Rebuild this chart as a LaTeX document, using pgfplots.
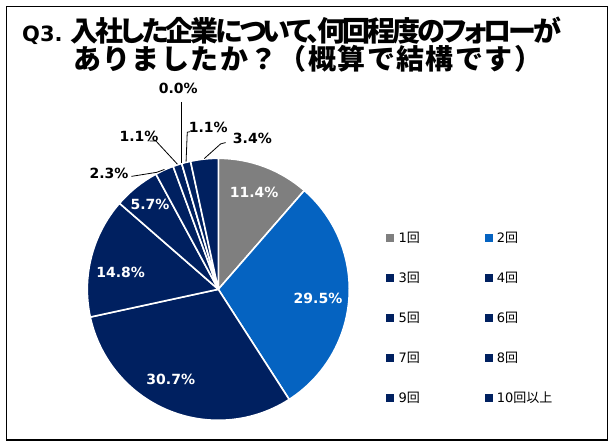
\documentclass[border=0pt]{standalone}
\usepackage{pgfplots}
\pgfplotsset{compat=1.18}
\usepackage{pgfplotstable}
\usepackage{fontspec}
\setmainfont{DejaVu Sans}
\newfontfamily\jpfont{Noto Sans CJK JP}
\newfontfamily\jpfontp[RawFeature=+palt, LetterSpace=-11]{Noto Sans CJK JP}
\newfontfamily\jpfontw[LetterSpace=5]{Noto Sans CJK JP}

\definecolor{cgray}{RGB}{127,127,127}
\definecolor{cblue}{RGB}{5,99,193}
\definecolor{cnavy}{RGB}{0,32,96}

\newcommand\labfont{\bfseries\fontsize{14bp}{14bp}\selectfont}
\newcommand\legfont{\fontsize{13bp}{13bp}\selectfont}

% share (%), slice colour, label position (axis units), label colour
\pgfplotstableread{
val col lx ly lc
11.4 cgray 0.273 0.740 white
29.5 cblue 0.761 -0.066 white
30.7 cnavy -0.363 -0.687 white
14.8 cnavy -0.745 0.130 white
5.7 cnavy -0.521 0.651 white
2.3 cnavy -0.834 0.888 black
1.1 cnavy -0.605 1.165 black
0.0 cnavy -0.305 1.537 black
1.1 cnavy -0.076 1.239 black
3.4 cnavy 0.260 1.150 black
}\piedata

\begin{document}
\begin{tikzpicture}

\begin{axis}[
    at={(218.3bp,157.7bp)},
    anchor=origin,
    width=262bp, height=262bp,
    scale only axis,
    xmin=-1, xmax=1, ymin=-1, ymax=1,
    hide axis,
    clip=false,
    legend columns=2,
    legend cell align=left,
    legend image code/.code={\fill[#1] (0bp,-3.5bp) rectangle (7bp,3.5bp);},
    legend style={
        draw=none, fill=none,
        at={(axis cs:1.280,0.437)}, anchor=north west,
        font=\legfont,
        inner sep=0pt,
        row sep=29bp,
        nodes={inner sep=0pt, text height=10bp, text depth=1bp},
        /tikz/every odd column/.append style={column sep=5bp},
        /tikz/every even column/.append style={column sep=64.7bp},
    },
]

\pgfmathsetmacro\acc{0}
\pgfplotsforeachungrouped \i in {0,...,9}{%
    \pgfplotstablegetelem{\i}{val}\of\piedata \let\pval\pgfplotsretval
    \pgfplotstablegetelem{\i}{col}\of\piedata \let\pcol\pgfplotsretval
    \pgfmathsetmacro\sa{90-3.6*\acc}
    \pgfmathsetmacro\acc{\acc+\pval}
    \pgfmathsetmacro\ea{90-3.6*\acc}
    \pgfmathsetmacro\sx{cos(\sa)}
    \pgfmathsetmacro\sy{sin(\sa)}
    \edef\cmd{\noexpand\fill[\pcol, draw=white, line width=1.6bp, line join=round]
        (axis cs:0,0) -- (axis cs:\sx,\sy) arc[start angle=\sa, end angle=\ea, radius=131bp] -- cycle;}
    \cmd
}
\pgfplotsforeachungrouped \i in {0,...,9}{%
    \pgfplotstablegetelem{\i}{val}\of\piedata \let\pval\pgfplotsretval
    \pgfplotstablegetelem{\i}{lx}\of\piedata \let\plx\pgfplotsretval
    \pgfplotstablegetelem{\i}{ly}\of\piedata \let\ply\pgfplotsretval
    \pgfplotstablegetelem{\i}{lc}\of\piedata \let\plc\pgfplotsretval
    \edef\cmd{\noexpand\node[text=\plc, font=\noexpand\labfont, inner sep=0pt]
        at (axis cs:\plx,\ply) {\pval\noexpand\%};}
    \cmd
}

% leader lines
\draw[black, line width=0.8bp] (axis cs:-0.663,0.862) -- (axis cs:-0.470,0.893) -- (axis cs:-0.411,0.915);
\draw[black, line width=0.8bp] (axis cs:-0.524,1.132) -- (axis cs:-0.476,1.132) -- (axis cs:-0.312,0.955);
\draw[black, line width=0.8bp] (axis cs:-0.279,1.430) -- (axis cs:-0.279,0.965);
\draw[black, line width=0.8bp] (axis cs:-0.216,1.203) -- (axis cs:-0.237,1.199) -- (axis cs:-0.246,0.975);
\draw[black, line width=0.8bp] (axis cs:0.056,1.120) -- (axis cs:0.018,1.110) -- (axis cs:-0.107,0.998);

\addlegendimage{cgray}\addlegendentry{1{\jpfont 回}}
\addlegendimage{cblue}\addlegendentry{2{\jpfont 回}}
\addlegendimage{cnavy}\addlegendentry{3{\jpfont 回}}
\addlegendimage{cnavy}\addlegendentry{4{\jpfont 回}}
\addlegendimage{cnavy}\addlegendentry{5{\jpfont 回}}
\addlegendimage{cnavy}\addlegendentry{6{\jpfont 回}}
\addlegendimage{cnavy}\addlegendentry{7{\jpfont 回}}
\addlegendimage{cnavy}\addlegendentry{8{\jpfont 回}}
\addlegendimage{cnavy}\addlegendentry{9{\jpfont 回}}
\addlegendimage{cnavy}\addlegendentry{10{\jpfont 回以上}}
\end{axis}

\draw[line width=1.3bp] (6.5bp,7bp) rectangle (607.5bp,440.5bp);
\node[anchor=base west, inner sep=0pt] at (22bp,405.4bp)
  {\bfseries\fontsize{21bp}{21bp}\selectfont Q3.\hspace{8bp}\jpfontp\fontsize{28bp}{28bp}\selectfont 入社した企業について、何回程度のフォローが};
\node[anchor=base west, inner sep=0pt] at (73bp,377.4bp)
  {\bfseries\jpfontw\fontsize{28bp}{28bp}\selectfont ありましたか？（概算で結構です）};

\pgfresetboundingbox
\path[use as bounding box] (0bp,0bp) rectangle (613bp,447bp);
\end{tikzpicture}
\end{document}
